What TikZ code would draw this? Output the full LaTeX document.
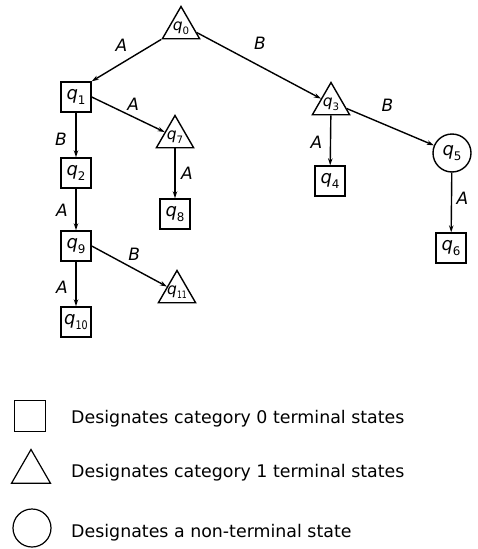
\documentclass[tikz,border=0pt]{standalone}
\usepackage{fontspec}
\setmainfont{DejaVu Sans}[ItalicFont={DejaVu Sans Oblique}]
\usetikzlibrary{shapes.geometric,arrows.meta,calc}
\newcommand{\qst}[1]{\makebox[0pt]{{\itshape q}\raisebox{-0.25em}{\scalebox{0.66}{#1}}}}

\begin{document}
\begin{tikzpicture}[
			x=1pt, y=-1pt,
			>={Stealth[length=7pt,width=4.5pt]},
			every node/.style={font=\fontsize{18}{20}\selectfont, inner sep=0pt},
			sq/.style={draw, line width=1.4pt, rectangle, minimum size=30pt},
			tri/.style={draw, line width=1.4pt, regular polygon, regular polygon sides=3, minimum size=43pt,
				font=\fontsize{15.5}{17}\selectfont},
			circ/.style={draw, line width=1.4pt, circle, minimum size=38pt},
			trans/.style={draw, ->, line width=1.4pt},
			lbl/.style={font=\fontsize{17}{19}\selectfont\itshape},
			legend/.style={anchor=base west, font=\fontsize{17.4}{20}\selectfont}
			]
			\useasboundingbox (0,0) rectangle (478,549);
			
			\node[tri] (q0) at (181,28) {\qst{0}};
			\node[sq] (q1) at (76,97) {\qst{1}};
			\node[sq] (q2) at (76,173) {\qst{2}};
			\node[tri] (q3) at (331,104) {\qst{3}};
			\node[sq] (q4) at (330,181) {\qst{4}};
			\node[circ] (q5) at (452,153) {\qst{5}};
			\node[sq] (q6) at (451,248) {\qst{6}};
			\node[tri] (q7) at (175,137) {\qst{7}};
			\node[sq] (q8) at (175,214) {\qst{8}};
			\node[sq] (q9) at (76,246) {\qst{9}};
			\node[sq] (q10) at (76,322) {\qst{\scalebox{0.8}[1]{10}}};
			\node[tri] (q11) at (177,292) {\qst{\scalebox{0.75}[1]{11}}};
			
			\draw[trans] (q0.corner 2) -- (q1.north east)
				node[lbl, midway, xshift=-5pt, yshift=15pt] (l01) {A};
			\draw[trans] ($(q0.corner 1)!0.8!(q0.corner 3)$) -- (q3)
				node[lbl, midway, xshift=1pt, yshift=22pt] (l03) {B};
			\draw[trans] (q1.east) -- (q7)
				node[lbl, midway, xshift=5pt, yshift=10pt] (l17) {A};
			\draw[trans] (q1) -- (q2)
				node[lbl, midway, xshift=-15pt, yshift=-4pt] (l12) {B};
			\draw[trans] (q7) -- (q8)
				node[lbl, midway, xshift=12pt] (l78) {A};
			\draw[trans] (q2) -- (q9)
				node[lbl, midway, xshift=-14pt, yshift=-1pt] (l29) {A};
			\draw[trans] (q9.east) -- (q11)
				node[lbl, midway, xshift=5pt, yshift=12pt] (l911) {B};
			\draw[trans] (q9) -- (q10)
				node[lbl, midway, xshift=-14pt, yshift=-3pt] (l910) {A};
			\draw[trans] (q3) -- (q4)
				node[lbl, midway, xshift=-14pt, yshift=-2pt] (l34) {A};
			\draw[trans] ($(q3.corner 1)!0.8!(q3.corner 3)$) -- (q5)
				node[lbl, midway, xshift=-3pt, yshift=22pt] (l35) {B};
			\draw[trans] (q5) -- (q6)
				node[lbl, midway, xshift=11pt, yshift=4pt] (l56) {A};
			
			\node[sq, line width=1.2pt, minimum size=31pt] (keysq) at (30,416) {};
			\node[tri, line width=1.2pt, minimum size=45pt] (keytri) at (31,472) {};
			\node[circ, line width=1.2pt] (keycirc) at (32,528) {};
			\node[legend] (txtsq) at (71,423) {Designates category 0 terminal states};
			\node[legend] (txttri) at (71,477) {Designates category 1 terminal states};
			\node[legend] (txtcirc) at (71,537) {Designates a non-terminal state};
		\end{tikzpicture}
\end{document}
